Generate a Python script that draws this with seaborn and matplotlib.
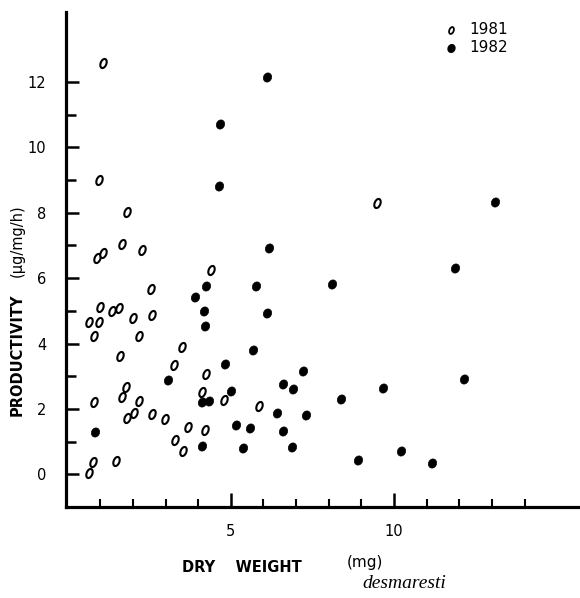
import matplotlib

matplotlib.use("Agg")
import matplotlib.pyplot as plt
import numpy as np
import pandas as pd
import seaborn as sns
from matplotlib.markers import MarkerStyle
from matplotlib.path import Path
from matplotlib.ticker import FixedLocator, MultipleLocator
from matplotlib.transforms import Affine2D

# values: dry weight (mg) and productivity (ug/mg/h)
dw_1981 = [1.08, 0.96, 1.83, 1.66, 2.29, 0.90, 1.09, 4.38, 2.54, 0.98, 1.37, 1.57,
           2.58, 2.00, 0.67, 0.96, 0.82, 2.18, 3.49, 1.60, 3.27, 4.24, 1.78, 1.67,
           4.11, 2.18, 0.80, 4.79, 5.86, 2.02, 1.82, 2.60, 2.97, 3.70, 4.22, 3.29,
           3.54, 0.79, 1.49, 0.67, 9.47]
prod_1981 = [12.59, 9.00, 8.01, 7.03, 6.87, 6.62, 6.76, 6.25, 5.66, 5.12, 5.01, 5.10,
             4.87, 4.78, 4.65, 4.65, 4.22, 4.22, 3.88, 3.63, 3.34, 3.06, 2.66, 2.37,
             2.53, 2.25, 2.20, 2.26, 2.10, 1.87, 1.71, 1.83, 1.68, 1.44, 1.34, 1.04,
             0.72, 0.37, 0.42, 0.04, 8.31]

dw_1982 = [6.10, 4.66, 4.64, 13.11, 6.18, 11.86, 8.09, 5.77, 4.25, 3.90, 4.17, 6.11,
           4.21, 5.69, 4.81, 7.20, 3.08, 12.14, 6.60, 6.91, 9.65, 5.01, 8.38, 4.11,
           4.33, 6.41, 7.29, 5.16, 5.60, 6.61, 0.84, 4.13, 5.37, 6.87, 8.89, 10.22,
           11.17]
prod_1982 = [12.14, 10.70, 8.83, 8.33, 6.91, 6.31, 5.83, 5.75, 5.77, 5.41, 4.99, 4.94,
             4.55, 3.79, 3.36, 3.16, 2.87, 2.90, 2.76, 2.60, 2.63, 2.55, 2.30, 2.21,
             2.25, 1.86, 1.80, 1.50, 1.42, 1.33, 1.29, 0.86, 0.81, 0.84, 0.43, 0.71,
             0.36]

y_labels = [0, 2, 4, 6, 8, 10, 12]
x_labels = [5, 10]

df = pd.concat([
    pd.DataFrame({"dw": dw_1981, "prod": prod_1981, "year": "1981"}),
    pd.DataFrame({"dw": dw_1982, "prod": prod_1982, "year": "1982"}),
])

sns.set_style("ticks")
plt.rcParams["font.family"] = ["DejaVu Sans"]
for key in ["text.color", "axes.labelcolor", "xtick.color", "ytick.color",
            "axes.edgecolor"]:
    plt.rcParams[key] = "black"

W, H = 580, 598
fig = plt.figure(figsize=(W / 100, H / 100), dpi=100)
ax = fig.add_axes([66 / W, 1 - 507 / H, 1 - 66 / W, (507 - 12) / H])

circle = Path.unit_circle()
open_mark = MarkerStyle(circle.transformed(Affine2D().scale(0.6, 1.0).rotate_deg(-22)))
full_mark = MarkerStyle(circle.transformed(Affine2D().scale(0.85, 1.0).rotate_deg(-25)))

sns.scatterplot(data=df[df.year == "1981"], x="dw", y="prod", marker=open_mark,
                s=46, facecolor="white", edgecolor="black", linewidth=1.5, ax=ax,
                zorder=3)
sns.scatterplot(data=df[df.year == "1982"], x="dw", y="prod", marker=full_mark,
                s=46, color="black", edgecolor="black", linewidth=0.5, ax=ax,
                zorder=3)

ax.set_xlim(-0.05, 15.7)
ax.set_ylim(-1.0, 14.14)
ax.set_xlabel("")
ax.set_ylabel("")
sns.despine(ax=ax)
for side in ["left", "bottom"]:
    ax.spines[side].set_linewidth(2.3)

ax.xaxis.set_major_locator(FixedLocator(x_labels))
ax.xaxis.set_minor_locator(FixedLocator([i for i in range(1, 15) if i not in x_labels]))
ax.yaxis.set_major_locator(FixedLocator(y_labels))
ax.yaxis.set_minor_locator(FixedLocator([i for i in range(1, 13) if i not in y_labels]))
ax.tick_params(axis="x", which="major", direction="in", length=10, width=1.8, pad=12,
               labelsize=10.5)
ax.tick_params(axis="x", which="minor", direction="in", length=6, width=1.5)
ax.tick_params(axis="y", which="major", direction="in", length=9, width=1.8, pad=14,
               labelsize=10.5)
ax.tick_params(axis="y", which="minor", direction="in", length=7, width=1.8)

# legend drawn as marks and text, top right
ax.scatter([11.75], [13.58], marker=open_mark, s=26, facecolor="white",
           edgecolor="black", linewidth=1.3, clip_on=False)
ax.scatter([11.75], [13.03], marker=full_mark, s=32, color="black", clip_on=False)
ax.text(12.3, 13.6, "1981", fontsize=11, va="center")
ax.text(12.3, 13.05, "1982", fontsize=11, va="center")

# axis titles
fig.text(182 / W, 1 - 568 / H, "DRY    WEIGHT", fontsize=10.5, fontweight="bold",
         va="center", ha="left")
fig.text(347 / W, 1 - 563 / H, "(mg)", fontsize=11, va="center", ha="left")
fig.text(362 / W, 1 - 583 / H, "desmaresti", fontsize=14, style="italic",
         family=["Liberation Serif", "DejaVu Serif"], va="center", ha="left")
fig.text(17 / W, 1 - 355 / H, "PRODUCTIVITY", fontsize=10.5, fontweight="bold",
         rotation=90, va="center", ha="center")
fig.text(17 / W, 1 - 241 / H, "(\u00b5g/mg/h)", fontsize=10.5, rotation=90,
         va="center", ha="center")

fig.savefig("out.png", dpi=100, facecolor="white")
